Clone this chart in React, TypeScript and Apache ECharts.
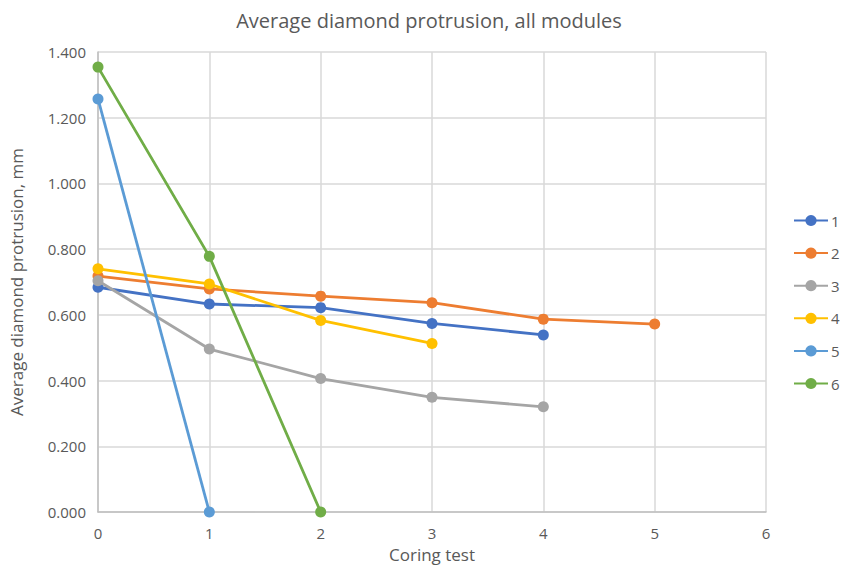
import React, { useEffect, useRef } from "react";
import * as echarts from "echarts";

const seriesNames = ["1", "2", "3", "4", "5", "6"];
const colors = ["#4472C4", "#ED7D31", "#A5A5A5", "#FFC000", "#5B9BD5", "#70AD47"];
const s1 = [[0, 0.684], [1, 0.633], [2, 0.622], [3, 0.574], [4, 0.539]];
const s2 = [[0, 0.718], [1, 0.679], [2, 0.657], [3, 0.637], [4, 0.587], [5, 0.572]];
const s3 = [[0, 0.704], [1, 0.496], [2, 0.406], [3, 0.349], [4, 0.320]];
const s4 = [[0, 0.740], [1, 0.694], [2, 0.583], [3, 0.513]];
const s5 = [[0, 1.257], [1, 0.0]];
const s6 = [[0, 1.354], [1, 0.778], [2, 0.0]];
const allData = [s1, s2, s3, s4, s5, s6];

const font = "'Open Sans', 'Liberation Sans', sans-serif";

export default function App() {
  const ref = useRef<HTMLDivElement>(null);
  useEffect(() => {
    const chart = echarts.init(ref.current!, null, { renderer: "svg" });
    chart.setOption({
      animation: false,
      backgroundColor: "#ffffff",
      title: {
        text: "Average diamond protrusion, all modules",
        left: 424,
        textAlign: "center",
        top: 5,
        textStyle: { fontFamily: font, fontSize: 20, fontWeight: "normal", color: "#595959" },
      },
      legend: {
        orient: "vertical",
        left: 788,
        top: 208,
        itemWidth: 34,
        itemHeight: 14,
        itemGap: 17.6,
        data: seriesNames,
        textStyle: { fontFamily: font, fontSize: 15, color: "#595959", padding: [0, 0, 0, -2] },
      },
      grid: { left: 97, right: 78, top: 52, bottom: 56 },
      xAxis: {
        type: "value",
        min: 0,
        max: 6,
        interval: 1,
        name: "Coring test",
        nameLocation: "middle",
        nameGap: 34,
        nameTextStyle: { fontFamily: font, fontSize: 17, color: "#595959" },
        axisLine: { show: true, onZero: false, lineStyle: { color: "#bfbfbf", width: 1.5 } },
        axisTick: { show: false },
        splitLine: { show: true, lineStyle: { color: "#d9d9d9", width: 1.5 } },
        axisLabel: { fontFamily: font, fontSize: 15, color: "#595959", margin: 13 },
      },
      yAxis: {
        type: "value",
        min: 0,
        max: 1.4,
        interval: 0.2,
        name: "Average diamond protrusion, mm",
        nameLocation: "middle",
        nameGap: 73,
        nameTextStyle: { fontFamily: font, fontSize: 17, color: "#595959" },
        axisLine: { show: true, lineStyle: { color: "#bfbfbf", width: 1.5 } },
        axisTick: { show: false },
        splitLine: { show: true, lineStyle: { color: "#d9d9d9", width: 1.5 } },
        axisLabel: {
          fontFamily: font,
          fontSize: 15,
          color: "#595959",
          margin: 12,
          formatter: (v: number) => v.toFixed(3),
        },
      },
      series: allData.map((d, i) => ({
        name: seriesNames[i],
        type: "line",
        data: d,
        color: colors[i],
        symbol: "circle",
        symbolSize: 11,
        showAllSymbol: true,
        lineStyle: { width: 2.8, color: colors[i] },
        itemStyle: { color: colors[i] },
        z: 2 + i,
      })),
    });
    return () => chart.dispose();
  }, []);
  return <div ref={ref} style={{ width: 844, height: 568, position: "absolute", left: 0, top: 0 }} />;
}
